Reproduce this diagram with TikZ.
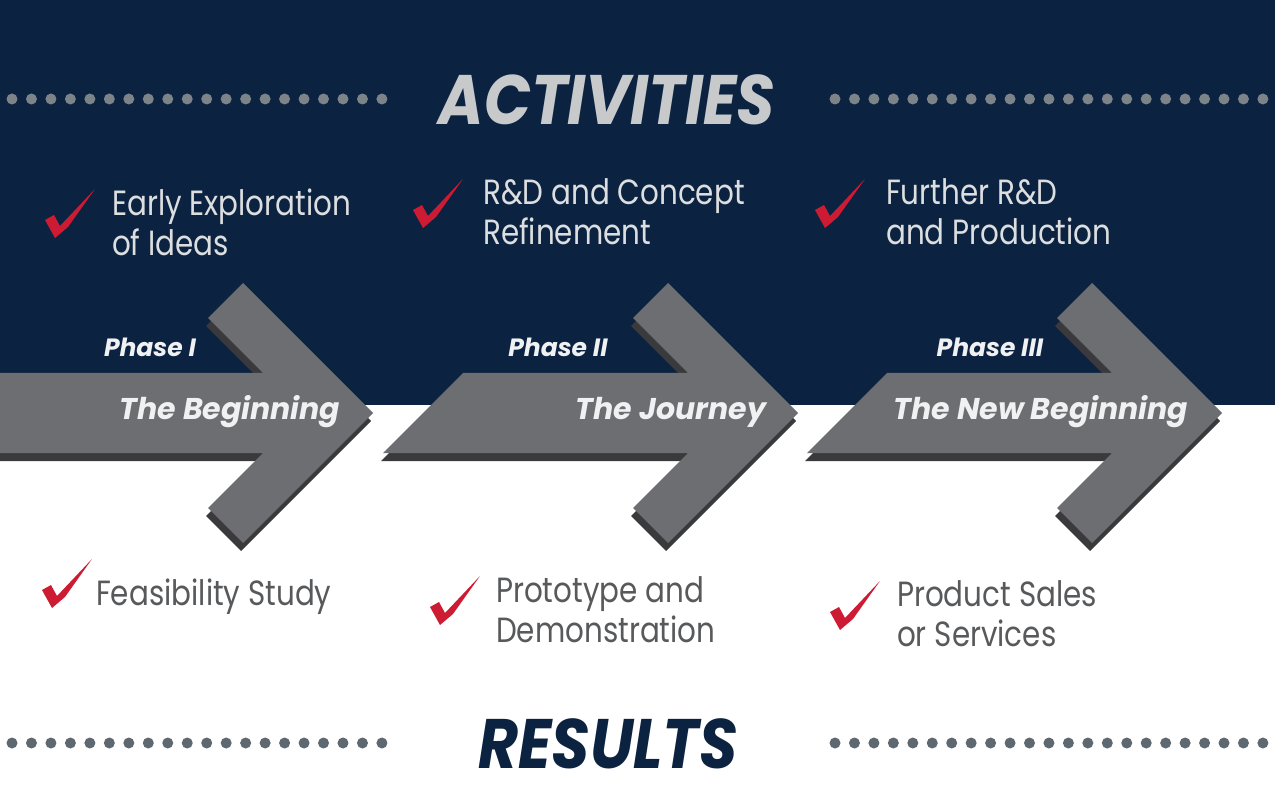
\documentclass[tikz,border=0pt]{standalone}
\usepackage{fontspec}
\setmainfont{Poppins}
\definecolor{navy}{RGB}{11,35,64}
\definecolor{arrowgray}{RGB}{109,110,114}
\definecolor{shadowgray}{RGB}{58,58,60}
\definecolor{dottop}{RGB}{124,132,138}
\definecolor{dotbottom}{RGB}{94,104,112}
\definecolor{checkred}{RGB}{206,27,52}
\definecolor{lighttext}{RGB}{220,222,224}
\definecolor{darktext}{RGB}{88,89,91}
\definecolor{headgray}{RGB}{200,201,203}
\definecolor{phasewhite}{RGB}{240,241,242}
\begin{document}
\begin{tikzpicture}[x=1pt,y=-1pt,
	heading/.style={anchor=base,inner sep=0,xscale=0.88,transform shape,font=\fontsize{70}{70}\selectfont\bfseries\itshape},
	phase/.style={anchor=base,inner sep=0,text=phasewhite,font=\fontsize{25}{25}\selectfont\bfseries\itshape},
	stage/.style={anchor=base,inner sep=0,text=phasewhite,font=\fontsize{30}{30}\selectfont\bfseries\itshape},
	item/.style={anchor=base west,inner sep=0,align=left,xscale=0.84,transform shape,font=\fontsize{35}{40}\selectfont},
	check/.style={fill=checkred}]
		\useasboundingbox (0,0) rectangle (1275,786);
		\fill[white] (0,0) rectangle (1275,786);
		\fill[navy] (0,0) rectangle (1275,405);

		% dotted rules
		\foreach \i in {0,...,19} \fill[dottop] (12+19.47*\i,99) circle (5.5);
		\foreach \i in {0,...,22} \fill[dottop] (835+19.45*\i,99) circle (5.5);
		\foreach \i in {0,...,19} \fill[dotbottom] (12+19.47*\i,743) circle (5.5);
		\foreach \i in {0,...,22} \fill[dotbottom] (835+19.45*\i,743) circle (5.5);

		\draw (607,125) node (activities)[heading,text=headgray]{ACTIVITIES};
		\draw (608,768) node (results)[heading,text=navy]{RESULTS};

		% arrows
		\coordinate (t1) at (373,413);
		\coordinate (t2) at (798,413);
		\coordinate (t3) at (1222,413);
		\fill[shadowgray] ([shift={(-2,8)}]t1) -- ++(-130,-130) -- ++(-35,35) -- ++(55,55) -- ++(-275,0) -- ++(0,80) -- ++(275,0) -- ++(-55,55) -- ++(35,35) -- cycle;
		\fill[arrowgray] (t1) -- ++(-130,-130) -- ++(-35,35) -- ++(55,55) -- ++(-275,0) -- ++(0,80) -- ++(275,0) -- ++(-55,55) -- ++(35,35) -- cycle;
		\fill[shadowgray] ([shift={(-2,8)}]t2) -- ++(-130,-130) -- ++(-35,35) -- ++(55,55) -- ++(-225,0) -- ++(-80,80) -- ++(305,0) -- ++(-55,55) -- ++(35,35) -- cycle;
		\fill[arrowgray] (t2) -- ++(-130,-130) -- ++(-35,35) -- ++(55,55) -- ++(-225,0) -- ++(-80,80) -- ++(305,0) -- ++(-55,55) -- ++(35,35) -- cycle;
		\fill[shadowgray] ([shift={(-2,8)}]t3) -- ++(-130,-130) -- ++(-35,35) -- ++(55,55) -- ++(-225,0) -- ++(-80,80) -- ++(305,0) -- ++(-55,55) -- ++(35,35) -- cycle;
		\fill[arrowgray] (t3) -- ++(-130,-130) -- ++(-35,35) -- ++(55,55) -- ++(-225,0) -- ++(-80,80) -- ++(305,0) -- ++(-55,55) -- ++(35,35) -- cycle;

		\draw (150,357) node (p1)[phase]{Phase I};
		\draw (558,357) node (p2)[phase]{Phase II};
		\draw (990,357) node (p3)[phase]{Phase III};
		\draw (230,419) node (s1)[stage]{The Beginning};
		\draw (671,419) node (s2)[stage]{The Journey};
		\draw (1041,419) node (s3)[stage]{The New Beginning};

		% checks
		\coordinate (c1) at (55,238);
		\coordinate (c2) at (423,228);
		\coordinate (c3) at (825,228);
		\coordinate (c4) at (52,608);
		\coordinate (c5) at (440,625);
		\coordinate (c6) at (840,630);
		\fill[check] (c1) -- ++(-10,-18) -- ++(9,-5) -- ++(6,11) -- ++(35,-37) -- ++(-27,38) -- cycle;
		\fill[check] (c2) -- ++(-10,-18) -- ++(9,-5) -- ++(6,11) -- ++(35,-37) -- ++(-27,38) -- cycle;
		\fill[check] (c3) -- ++(-10,-18) -- ++(9,-5) -- ++(6,11) -- ++(35,-37) -- ++(-27,38) -- cycle;
		\fill[check] (c4) -- ++(-10,-18) -- ++(9,-5) -- ++(6,11) -- ++(35,-37) -- ++(-27,38) -- cycle;
		\fill[check] (c5) -- ++(-10,-18) -- ++(9,-5) -- ++(6,11) -- ++(35,-37) -- ++(-27,38) -- cycle;
		\fill[check] (c6) -- ++(-10,-18) -- ++(9,-5) -- ++(6,11) -- ++(35,-37) -- ++(-27,38) -- cycle;

		% base of a two-line item is its second line
		\draw (112,256) node (i1)[item,text=lighttext]{Early Exploration\\of Ideas};
		\draw (483,245) node (i2)[item,text=lighttext]{R\&D and Concept\\Refinement};
		\draw (886,245) node (i3)[item,text=lighttext]{Further R\&D\\and Production};
		\draw (96,605) node (i4)[item,text=darktext]{Feasibility Study};
		\draw (496,642) node (i5)[item,text=darktext]{Prototype and\\Demonstration};
		\draw (897,646) node (i6)[item,text=darktext]{Product Sales\\or Services};
	\end{tikzpicture}
\end{document}
